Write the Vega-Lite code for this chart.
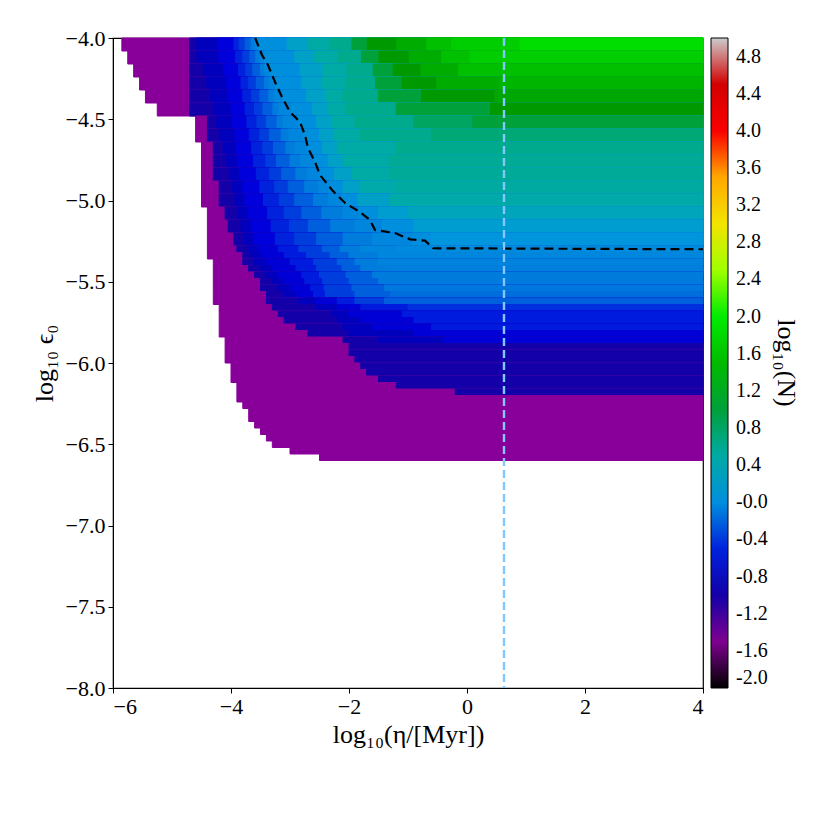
{
"$schema":"https://vega.github.io/schema/vega-lite/v6.json",
"width":590,"height":650,
"autosize":{"type":"none"},
"padding":{"left":113,"top":38,"right":127,"bottom":142},
"background":"white",
"config":{
 "view":{"stroke":"black","strokeWidth":1.2},
 "axis":{"labelFont":"Liberation Serif","titleFont":"Liberation Serif","labelFontSize":22,"titleFontSize":26,"labelColor":"black","titleColor":"black","domainColor":"black","tickColor":"black","grid":false,"tickSize":5,"titleFontWeight":"normal","labelPadding":3}
},
"datasets":{"cells":[
{"x":-5.85,"y":-4.08,"t":-4,"v":-1.3},{"x":-4.7,"y":-4.08,"t":-4,"v":-1},{"x":-4.58,"y":-4.08,"t":-4,"v":-0.82},{"x":-4.22,"y":-4.08,"t":-4,"v":-0.6},{"x":-3.95,"y":-4.08,"t":-4,"v":-0.5},{"x":-3.86,"y":-4.08,"t":-4,"v":-0.42},{"x":-3.76,"y":-4.08,"t":-4,"v":-0.32},{"x":-3.66,"y":-4.08,"t":-4,"v":-0.2},{"x":-3.6,"y":-4.08,"t":-4,"v":-0.1},{"x":-3.55,"y":-4.08,"t":-4,"v":0},{"x":-3.05,"y":-4.08,"t":-4,"v":0.25},{"x":-2.69,"y":-4.08,"t":-4,"v":0.5},{"x":-2.32,"y":-4.08,"t":-4,"v":0.75},{"x":-1.95,"y":-4.08,"t":-4,"v":1},{"x":-1.69,"y":-4.08,"t":-4,"v":1.15},{"x":-1.19,"y":-4.08,"t":-4,"v":1.35},{"x":-0.68,"y":-4.08,"t":-4,"v":1.55},{"x":-0.26,"y":-4.08,"t":-4,"v":1.7},{"x":0.9,"y":-4.08,"t":-4,"v":1.85},
{"x":-5.75,"y":-4.16,"t":-4.08,"v":-1.3},{"x":-4.7,"y":-4.16,"t":-4.08,"v":-1},{"x":-4.57,"y":-4.16,"t":-4.08,"v":-0.82},{"x":-4.2,"y":-4.16,"t":-4.08,"v":-0.6},{"x":-3.92,"y":-4.16,"t":-4.08,"v":-0.5},{"x":-3.8,"y":-4.16,"t":-4.08,"v":-0.42},{"x":-3.68,"y":-4.16,"t":-4.08,"v":-0.32},{"x":-3.58,"y":-4.16,"t":-4.08,"v":-0.2},{"x":-3.5,"y":-4.16,"t":-4.08,"v":-0.1},{"x":-3.43,"y":-4.16,"t":-4.08,"v":0},{"x":-2.92,"y":-4.16,"t":-4.08,"v":0.25},{"x":-2.58,"y":-4.16,"t":-4.08,"v":0.5},{"x":-2.18,"y":-4.16,"t":-4.08,"v":0.75},{"x":-1.79,"y":-4.16,"t":-4.08,"v":1},{"x":-1.49,"y":-4.16,"t":-4.08,"v":1.15},{"x":-0.98,"y":-4.16,"t":-4.08,"v":1.35},{"x":-0.43,"y":-4.16,"t":-4.08,"v":1.55},{"x":0.05,"y":-4.16,"t":-4.08,"v":1.7},
{"x":-5.65,"y":-4.24,"t":-4.16,"v":-1.3},{"x":-4.7,"y":-4.24,"t":-4.16,"v":-1},{"x":-4.46,"y":-4.24,"t":-4.16,"v":-0.82},{"x":-4.12,"y":-4.24,"t":-4.16,"v":-0.6},{"x":-3.87,"y":-4.24,"t":-4.16,"v":-0.5},{"x":-3.75,"y":-4.24,"t":-4.16,"v":-0.42},{"x":-3.63,"y":-4.24,"t":-4.16,"v":-0.32},{"x":-3.5,"y":-4.24,"t":-4.16,"v":-0.2},{"x":-3.43,"y":-4.24,"t":-4.16,"v":-0.1},{"x":-3.34,"y":-4.24,"t":-4.16,"v":0},{"x":-2.83,"y":-4.24,"t":-4.16,"v":0.25},{"x":-2.44,"y":-4.24,"t":-4.16,"v":0.5},{"x":-2.02,"y":-4.24,"t":-4.16,"v":0.75},{"x":-1.59,"y":-4.24,"t":-4.16,"v":1},{"x":-1.25,"y":-4.24,"t":-4.16,"v":1.15},{"x":-0.78,"y":-4.24,"t":-4.16,"v":1.35},{"x":-0.14,"y":-4.24,"t":-4.16,"v":1.55},
{"x":-5.55,"y":-4.32,"t":-4.24,"v":-1.3},{"x":-4.7,"y":-4.32,"t":-4.24,"v":-1},{"x":-4.41,"y":-4.32,"t":-4.24,"v":-0.82},{"x":-4.08,"y":-4.32,"t":-4.24,"v":-0.6},{"x":-3.83,"y":-4.32,"t":-4.24,"v":-0.5},{"x":-3.7,"y":-4.32,"t":-4.24,"v":-0.42},{"x":-3.57,"y":-4.32,"t":-4.24,"v":-0.32},{"x":-3.43,"y":-4.32,"t":-4.24,"v":-0.2},{"x":-3.35,"y":-4.32,"t":-4.24,"v":-0.1},{"x":-3.23,"y":-4.32,"t":-4.24,"v":0},{"x":-2.8,"y":-4.32,"t":-4.24,"v":0.25},{"x":-2.45,"y":-4.32,"t":-4.24,"v":0.5},{"x":-2.05,"y":-4.32,"t":-4.24,"v":0.75},{"x":-1.55,"y":-4.32,"t":-4.24,"v":1},{"x":-1.1,"y":-4.32,"t":-4.24,"v":1.15},{"x":-0.51,"y":-4.32,"t":-4.24,"v":1.35},{"x":0.55,"y":-4.32,"t":-4.24,"v":1.44},
{"x":-5.45,"y":-4.4,"t":-4.32,"v":-1.3},{"x":-4.7,"y":-4.4,"t":-4.32,"v":-1},{"x":-4.35,"y":-4.4,"t":-4.32,"v":-0.82},{"x":-4.04,"y":-4.4,"t":-4.32,"v":-0.6},{"x":-3.8,"y":-4.4,"t":-4.32,"v":-0.5},{"x":-3.65,"y":-4.4,"t":-4.32,"v":-0.42},{"x":-3.51,"y":-4.4,"t":-4.32,"v":-0.32},{"x":-3.36,"y":-4.4,"t":-4.32,"v":-0.2},{"x":-3.27,"y":-4.4,"t":-4.32,"v":-0.1},{"x":-3.12,"y":-4.4,"t":-4.32,"v":0},{"x":-2.72,"y":-4.4,"t":-4.32,"v":0.25},{"x":-2.4,"y":-4.4,"t":-4.32,"v":0.5},{"x":-2.1,"y":-4.4,"t":-4.32,"v":0.75},{"x":-1.5,"y":-4.4,"t":-4.32,"v":1},{"x":-0.77,"y":-4.4,"t":-4.32,"v":1.15},{"x":0.47,"y":-4.4,"t":-4.32,"v":1.29},
{"x":-5.25,"y":-4.48,"t":-4.4,"v":-1.3},{"x":-4.7,"y":-4.48,"t":-4.4,"v":-1},{"x":-4.29,"y":-4.48,"t":-4.4,"v":-0.82},{"x":-4,"y":-4.48,"t":-4.4,"v":-0.6},{"x":-3.76,"y":-4.48,"t":-4.4,"v":-0.5},{"x":-3.6,"y":-4.48,"t":-4.4,"v":-0.42},{"x":-3.46,"y":-4.48,"t":-4.4,"v":-0.32},{"x":-3.29,"y":-4.48,"t":-4.4,"v":-0.2},{"x":-3.2,"y":-4.48,"t":-4.4,"v":-0.1},{"x":-2.98,"y":-4.48,"t":-4.4,"v":0},{"x":-2.62,"y":-4.48,"t":-4.4,"v":0.25},{"x":-2.35,"y":-4.48,"t":-4.4,"v":0.5},{"x":-2.05,"y":-4.48,"t":-4.4,"v":0.75},{"x":-1.2,"y":-4.48,"t":-4.4,"v":1},{"x":0.4,"y":-4.48,"t":-4.4,"v":1.15},
{"x":-4.6,"y":-4.56,"t":-4.48,"v":-1.3},{"x":-4.4,"y":-4.56,"t":-4.48,"v":-1},{"x":-4.24,"y":-4.56,"t":-4.48,"v":-0.82},{"x":-3.97,"y":-4.56,"t":-4.48,"v":-0.6},{"x":-3.73,"y":-4.56,"t":-4.48,"v":-0.5},{"x":-3.56,"y":-4.56,"t":-4.48,"v":-0.42},{"x":-3.4,"y":-4.56,"t":-4.48,"v":-0.32},{"x":-3.22,"y":-4.56,"t":-4.48,"v":-0.2},{"x":-3.11,"y":-4.56,"t":-4.48,"v":-0.1},{"x":-2.86,"y":-4.56,"t":-4.48,"v":0},{"x":-2.55,"y":-4.56,"t":-4.48,"v":0.25},{"x":-2.3,"y":-4.56,"t":-4.48,"v":0.5},{"x":-1.9,"y":-4.56,"t":-4.48,"v":0.75},{"x":-0.9,"y":-4.56,"t":-4.48,"v":0.9},{"x":0.1,"y":-4.56,"t":-4.48,"v":1},
{"x":-4.6,"y":-4.64,"t":-4.56,"v":-1.3},{"x":-4.4,"y":-4.64,"t":-4.56,"v":-1},{"x":-4.19,"y":-4.64,"t":-4.56,"v":-0.82},{"x":-3.93,"y":-4.64,"t":-4.56,"v":-0.6},{"x":-3.69,"y":-4.64,"t":-4.56,"v":-0.5},{"x":-3.51,"y":-4.64,"t":-4.56,"v":-0.42},{"x":-3.35,"y":-4.64,"t":-4.56,"v":-0.32},{"x":-3.15,"y":-4.64,"t":-4.56,"v":-0.2},{"x":-3.02,"y":-4.64,"t":-4.56,"v":-0.1},{"x":-2.78,"y":-4.64,"t":-4.56,"v":0},{"x":-2.5,"y":-4.64,"t":-4.56,"v":0.25},{"x":-2.25,"y":-4.64,"t":-4.56,"v":0.5},{"x":-1.8,"y":-4.64,"t":-4.56,"v":0.75},{"x":-0.6,"y":-4.64,"t":-4.56,"v":0.85},
{"x":-4.5,"y":-4.72,"t":-4.64,"v":-1.3},{"x":-4.3,"y":-4.72,"t":-4.64,"v":-1},{"x":-4.13,"y":-4.72,"t":-4.64,"v":-0.82},{"x":-3.91,"y":-4.72,"t":-4.64,"v":-0.6},{"x":-3.65,"y":-4.72,"t":-4.64,"v":-0.5},{"x":-3.46,"y":-4.72,"t":-4.64,"v":-0.42},{"x":-3.28,"y":-4.72,"t":-4.64,"v":-0.32},{"x":-3.07,"y":-4.72,"t":-4.64,"v":-0.2},{"x":-2.91,"y":-4.72,"t":-4.64,"v":-0.1},{"x":-2.7,"y":-4.72,"t":-4.64,"v":0},{"x":-2.45,"y":-4.72,"t":-4.64,"v":0.25},{"x":-2.2,"y":-4.72,"t":-4.64,"v":0.5},{"x":-1.2,"y":-4.72,"t":-4.64,"v":0.75},
{"x":-4.5,"y":-4.8,"t":-4.72,"v":-1.3},{"x":-4.3,"y":-4.8,"t":-4.72,"v":-1},{"x":-4.08,"y":-4.8,"t":-4.72,"v":-0.82},{"x":-3.89,"y":-4.8,"t":-4.72,"v":-0.6},{"x":-3.62,"y":-4.8,"t":-4.72,"v":-0.5},{"x":-3.41,"y":-4.8,"t":-4.72,"v":-0.42},{"x":-3.23,"y":-4.8,"t":-4.72,"v":-0.32},{"x":-3,"y":-4.8,"t":-4.72,"v":-0.2},{"x":-2.83,"y":-4.8,"t":-4.72,"v":-0.1},{"x":-2.59,"y":-4.8,"t":-4.72,"v":0},{"x":-2.35,"y":-4.8,"t":-4.72,"v":0.25},{"x":-2.1,"y":-4.8,"t":-4.72,"v":0.5},{"x":-1.3,"y":-4.8,"t":-4.72,"v":0.68},
{"x":-4.5,"y":-4.88,"t":-4.8,"v":-1.3},{"x":-4.3,"y":-4.88,"t":-4.8,"v":-1},{"x":-4.02,"y":-4.88,"t":-4.8,"v":-0.82},{"x":-3.85,"y":-4.88,"t":-4.8,"v":-0.6},{"x":-3.57,"y":-4.88,"t":-4.8,"v":-0.5},{"x":-3.35,"y":-4.88,"t":-4.8,"v":-0.42},{"x":-3.14,"y":-4.88,"t":-4.8,"v":-0.32},{"x":-2.9,"y":-4.88,"t":-4.8,"v":-0.2},{"x":-2.7,"y":-4.88,"t":-4.8,"v":-0.1},{"x":-2.48,"y":-4.88,"t":-4.8,"v":0},{"x":-2.25,"y":-4.88,"t":-4.8,"v":0.25},{"x":-1.95,"y":-4.88,"t":-4.8,"v":0.5},{"x":-1.3,"y":-4.88,"t":-4.8,"v":0.62},
{"x":-4.5,"y":-4.96,"t":-4.88,"v":-1.3},{"x":-4.2,"y":-4.96,"t":-4.88,"v":-1},{"x":-3.97,"y":-4.96,"t":-4.88,"v":-0.82},{"x":-3.8,"y":-4.96,"t":-4.88,"v":-0.6},{"x":-3.51,"y":-4.96,"t":-4.88,"v":-0.5},{"x":-3.26,"y":-4.96,"t":-4.88,"v":-0.42},{"x":-3.03,"y":-4.96,"t":-4.88,"v":-0.32},{"x":-2.75,"y":-4.96,"t":-4.88,"v":-0.2},{"x":-2.52,"y":-4.96,"t":-4.88,"v":-0.1},{"x":-2.34,"y":-4.96,"t":-4.88,"v":0},{"x":-2.1,"y":-4.96,"t":-4.88,"v":0.25},{"x":-1.8,"y":-4.96,"t":-4.88,"v":0.45},{"x":-1.2,"y":-4.96,"t":-4.88,"v":0.55},
{"x":-4.5,"y":-5.04,"t":-4.96,"v":-1.3},{"x":-4.2,"y":-5.04,"t":-4.96,"v":-1},{"x":-3.93,"y":-5.04,"t":-4.96,"v":-0.82},{"x":-3.76,"y":-5.04,"t":-4.96,"v":-0.6},{"x":-3.45,"y":-5.04,"t":-4.96,"v":-0.5},{"x":-3.18,"y":-5.04,"t":-4.96,"v":-0.42},{"x":-2.92,"y":-5.04,"t":-4.96,"v":-0.32},{"x":-2.6,"y":-5.04,"t":-4.96,"v":-0.2},{"x":-2.35,"y":-5.04,"t":-4.96,"v":-0.1},{"x":-2.13,"y":-5.04,"t":-4.96,"v":0},{"x":-1.85,"y":-5.04,"t":-4.96,"v":0.25},{"x":-1.3,"y":-5.04,"t":-4.96,"v":0.47},
{"x":-4.4,"y":-5.12,"t":-5.04,"v":-1.3},{"x":-4.1,"y":-5.12,"t":-5.04,"v":-1},{"x":-3.88,"y":-5.12,"t":-5.04,"v":-0.82},{"x":-3.71,"y":-5.12,"t":-5.04,"v":-0.6},{"x":-3.38,"y":-5.12,"t":-5.04,"v":-0.5},{"x":-3.1,"y":-5.12,"t":-5.04,"v":-0.42},{"x":-2.8,"y":-5.12,"t":-5.04,"v":-0.32},{"x":-2.46,"y":-5.12,"t":-5.04,"v":-0.2},{"x":-2.1,"y":-5.12,"t":-5.04,"v":-0.1},{"x":-1.82,"y":-5.12,"t":-5.04,"v":0},{"x":-1.5,"y":-5.12,"t":-5.04,"v":0.18},{"x":-1,"y":-5.12,"t":-5.04,"v":0.33},
{"x":-4.4,"y":-5.2,"t":-5.12,"v":-1.3},{"x":-4.05,"y":-5.2,"t":-5.12,"v":-1},{"x":-3.83,"y":-5.2,"t":-5.12,"v":-0.82},{"x":-3.66,"y":-5.2,"t":-5.12,"v":-0.6},{"x":-3.32,"y":-5.2,"t":-5.12,"v":-0.5},{"x":-3.01,"y":-5.2,"t":-5.12,"v":-0.42},{"x":-2.69,"y":-5.2,"t":-5.12,"v":-0.32},{"x":-2.31,"y":-5.2,"t":-5.12,"v":-0.2},{"x":-1.9,"y":-5.2,"t":-5.12,"v":-0.1},{"x":-1.43,"y":-5.2,"t":-5.12,"v":0},{"x":-0.9,"y":-5.2,"t":-5.12,"v":0.18},
{"x":-4.4,"y":-5.28,"t":-5.2,"v":-1.3},{"x":-3.95,"y":-5.28,"t":-5.2,"v":-1},{"x":-3.78,"y":-5.28,"t":-5.2,"v":-0.82},{"x":-3.6,"y":-5.28,"t":-5.2,"v":-0.6},{"x":-3.25,"y":-5.28,"t":-5.2,"v":-0.5},{"x":-2.92,"y":-5.28,"t":-5.2,"v":-0.42},{"x":-2.55,"y":-5.28,"t":-5.2,"v":-0.32},{"x":-2.1,"y":-5.28,"t":-5.2,"v":-0.2},{"x":-1.6,"y":-5.28,"t":-5.2,"v":-0.1},{"x":-0.93,"y":-5.28,"t":-5.2,"v":0},{"x":-0.6,"y":-5.28,"t":-5.2,"v":0.06},
{"x":-4.4,"y":-5.32,"t":-5.28,"v":-1.3},{"x":-3.9,"y":-5.32,"t":-5.28,"v":-1},{"x":-3.72,"y":-5.32,"t":-5.28,"v":-0.82},{"x":-3.55,"y":-5.32,"t":-5.28,"v":-0.65},{"x":-3.2,"y":-5.32,"t":-5.28,"v":-0.52},{"x":-2.85,"y":-5.32,"t":-5.28,"v":-0.42},{"x":-2.45,"y":-5.32,"t":-5.28,"v":-0.32},{"x":-2.15,"y":-5.32,"t":-5.28,"v":-0.2},{"x":-1.8,"y":-5.32,"t":-5.28,"v":-0.1},{"x":-1.2,"y":-5.32,"t":-5.28,"v":-0.05},
{"x":-4.4,"y":-5.36,"t":-5.32,"v":-1.3},{"x":-3.8,"y":-5.36,"t":-5.32,"v":-1},{"x":-3.66,"y":-5.36,"t":-5.32,"v":-0.82},{"x":-3.48,"y":-5.36,"t":-5.32,"v":-0.65},{"x":-3.1,"y":-5.36,"t":-5.32,"v":-0.52},{"x":-2.72,"y":-5.36,"t":-5.32,"v":-0.42},{"x":-2.32,"y":-5.36,"t":-5.32,"v":-0.32},{"x":-2,"y":-5.36,"t":-5.32,"v":-0.2},{"x":-1.5,"y":-5.36,"t":-5.32,"v":-0.1},
{"x":-4.3,"y":-5.4,"t":-5.36,"v":-1.3},{"x":-3.8,"y":-5.4,"t":-5.36,"v":-1},{"x":-3.6,"y":-5.4,"t":-5.36,"v":-0.82},{"x":-3.4,"y":-5.4,"t":-5.36,"v":-0.65},{"x":-3,"y":-5.4,"t":-5.36,"v":-0.52},{"x":-2.6,"y":-5.4,"t":-5.36,"v":-0.42},{"x":-2.2,"y":-5.4,"t":-5.36,"v":-0.32},{"x":-1.9,"y":-5.4,"t":-5.36,"v":-0.2},{"x":-1.5,"y":-5.4,"t":-5.36,"v":-0.14},
{"x":-4.3,"y":-5.44,"t":-5.4,"v":-1.3},{"x":-3.7,"y":-5.44,"t":-5.4,"v":-1},{"x":-3.5,"y":-5.44,"t":-5.4,"v":-0.82},{"x":-3.3,"y":-5.44,"t":-5.4,"v":-0.65},{"x":-2.9,"y":-5.44,"t":-5.4,"v":-0.52},{"x":-2.55,"y":-5.44,"t":-5.4,"v":-0.42},{"x":-2.12,"y":-5.44,"t":-5.4,"v":-0.32},{"x":-1.8,"y":-5.44,"t":-5.4,"v":-0.2},{"x":-1.4,"y":-5.44,"t":-5.4,"v":-0.17},
{"x":-4.3,"y":-5.48,"t":-5.44,"v":-1.3},{"x":-3.6,"y":-5.48,"t":-5.44,"v":-1},{"x":-3.4,"y":-5.48,"t":-5.44,"v":-0.82},{"x":-3.2,"y":-5.48,"t":-5.44,"v":-0.65},{"x":-2.8,"y":-5.48,"t":-5.44,"v":-0.52},{"x":-2.5,"y":-5.48,"t":-5.44,"v":-0.42},{"x":-2.05,"y":-5.48,"t":-5.44,"v":-0.32},{"x":-1.6,"y":-5.48,"t":-5.44,"v":-0.2},
{"x":-4.3,"y":-5.52,"t":-5.48,"v":-1.3},{"x":-3.5,"y":-5.52,"t":-5.48,"v":-1},{"x":-3.3,"y":-5.52,"t":-5.48,"v":-0.82},{"x":-3.1,"y":-5.52,"t":-5.48,"v":-0.65},{"x":-2.75,"y":-5.52,"t":-5.48,"v":-0.52},{"x":-2.45,"y":-5.52,"t":-5.48,"v":-0.42},{"x":-2,"y":-5.52,"t":-5.48,"v":-0.32},{"x":-1.5,"y":-5.52,"t":-5.48,"v":-0.22},
{"x":-4.3,"y":-5.56,"t":-5.52,"v":-1.3},{"x":-3.5,"y":-5.56,"t":-5.52,"v":-1},{"x":-3.2,"y":-5.56,"t":-5.52,"v":-0.82},{"x":-3,"y":-5.56,"t":-5.52,"v":-0.65},{"x":-2.65,"y":-5.56,"t":-5.52,"v":-0.52},{"x":-2.42,"y":-5.56,"t":-5.52,"v":-0.42},{"x":-1.95,"y":-5.56,"t":-5.52,"v":-0.32},{"x":-1.4,"y":-5.56,"t":-5.52,"v":-0.25},
{"x":-4.3,"y":-5.6,"t":-5.56,"v":-1.3},{"x":-3.4,"y":-5.6,"t":-5.56,"v":-1},{"x":-3.1,"y":-5.6,"t":-5.56,"v":-0.82},{"x":-2.9,"y":-5.6,"t":-5.56,"v":-0.65},{"x":-2.6,"y":-5.6,"t":-5.56,"v":-0.52},{"x":-2.4,"y":-5.6,"t":-5.56,"v":-0.42},{"x":-1.9,"y":-5.6,"t":-5.56,"v":-0.32},{"x":-1.3,"y":-5.6,"t":-5.56,"v":-0.28},
{"x":-4.3,"y":-5.64,"t":-5.6,"v":-1.3},{"x":-3.4,"y":-5.64,"t":-5.6,"v":-1},{"x":-2.85,"y":-5.64,"t":-5.6,"v":-0.82},{"x":-2.55,"y":-5.64,"t":-5.6,"v":-0.65},{"x":-2.2,"y":-5.64,"t":-5.6,"v":-0.52},{"x":-1.9,"y":-5.64,"t":-5.6,"v":-0.42},{"x":-1.4,"y":-5.64,"t":-5.6,"v":-0.32},
{"x":-4.2,"y":-5.68,"t":-5.64,"v":-1.3},{"x":-3.3,"y":-5.68,"t":-5.64,"v":-1},{"x":-2.55,"y":-5.68,"t":-5.64,"v":-0.82},{"x":-2.2,"y":-5.68,"t":-5.64,"v":-0.65},{"x":-1.8,"y":-5.68,"t":-5.64,"v":-0.52},{"x":-1,"y":-5.68,"t":-5.64,"v":-0.46},
{"x":-4.2,"y":-5.72,"t":-5.68,"v":-1.3},{"x":-3.2,"y":-5.72,"t":-5.68,"v":-1},{"x":-2.3,"y":-5.72,"t":-5.68,"v":-0.82},{"x":-2,"y":-5.72,"t":-5.68,"v":-0.65},{"x":-1.1,"y":-5.72,"t":-5.68,"v":-0.52},
{"x":-4.2,"y":-5.76,"t":-5.72,"v":-1.3},{"x":-3.1,"y":-5.76,"t":-5.72,"v":-1},{"x":-2.2,"y":-5.76,"t":-5.72,"v":-0.82},{"x":-1.8,"y":-5.76,"t":-5.72,"v":-0.65},{"x":-0.9,"y":-5.76,"t":-5.72,"v":-0.52},
{"x":-4.2,"y":-5.8,"t":-5.76,"v":-1.3},{"x":-2.9,"y":-5.8,"t":-5.76,"v":-1},{"x":-2.1,"y":-5.8,"t":-5.76,"v":-0.82},{"x":-1.6,"y":-5.8,"t":-5.76,"v":-0.65},{"x":-0.6,"y":-5.8,"t":-5.76,"v":-0.52},
{"x":-4.2,"y":-5.84,"t":-5.8,"v":-1.3},{"x":-2.7,"y":-5.84,"t":-5.8,"v":-1},{"x":-2,"y":-5.84,"t":-5.8,"v":-0.82},{"x":-0.9,"y":-5.84,"t":-5.8,"v":-0.65},
{"x":-4.1,"y":-5.88,"t":-5.84,"v":-1.3},{"x":-2.1,"y":-5.88,"t":-5.84,"v":-1},{"x":-1.5,"y":-5.88,"t":-5.84,"v":-0.82},{"x":-0.4,"y":-5.88,"t":-5.84,"v":-0.65},
{"x":-4.1,"y":-5.92,"t":-5.88,"v":-1.3},{"x":-2,"y":-5.92,"t":-5.88,"v":-1},
{"x":-4.1,"y":-5.96,"t":-5.92,"v":-1.3},{"x":-2,"y":-5.96,"t":-5.92,"v":-1},
{"x":-4.1,"y":-6,"t":-5.96,"v":-1.3},{"x":-1.9,"y":-6,"t":-5.96,"v":-1},
{"x":-4,"y":-6.04,"t":-6,"v":-1.3},{"x":-1.8,"y":-6.04,"t":-6,"v":-1},
{"x":-4,"y":-6.08,"t":-6.04,"v":-1.3},{"x":-1.7,"y":-6.08,"t":-6.04,"v":-1},
{"x":-4,"y":-6.12,"t":-6.08,"v":-1.3},{"x":-1.5,"y":-6.12,"t":-6.08,"v":-1},
{"x":-3.9,"y":-6.16,"t":-6.12,"v":-1.3},{"x":-1.2,"y":-6.16,"t":-6.12,"v":-1},
{"x":-3.9,"y":-6.2,"t":-6.16,"v":-1.3},{"x":-0.2,"y":-6.2,"t":-6.16,"v":-1},
{"x":-3.9,"y":-6.24,"t":-6.2,"v":-1.3},
{"x":-3.8,"y":-6.28,"t":-6.24,"v":-1.3},
{"x":-3.7,"y":-6.36,"t":-6.28,"v":-1.3},
{"x":-3.6,"y":-6.4,"t":-6.36,"v":-1.3},
{"x":-3.5,"y":-6.44,"t":-6.4,"v":-1.3},
{"x":-3.4,"y":-6.48,"t":-6.44,"v":-1.3},
{"x":-3.3,"y":-6.52,"t":-6.48,"v":-1.3},
{"x":-3,"y":-6.56,"t":-6.52,"v":-1.3},
{"x":-2.5,"y":-6.6,"t":-6.56,"v":-1.3}
]},
"layer":[
{"data":{"name":"cells"},
"mark":{"type":"rect","stroke":{"expr":"scale('color', datum.v)"},"strokeWidth":1},
"encoding":{
 "x":{"field":"x","type":"quantitative","scale":{"domain":[-6,4],"nice":false,"zero":false},"axis":{"values":[-6,-4,-2,0,2,4],"format":"d","title":"log₁₀(η/[Myr])","titlePadding":4}},
 "x2":{"datum":4},
 "y":{"field":"y","type":"quantitative","scale":{"domain":[-8,-4],"nice":false,"zero":false},"axis":{"values":[-8,-7.5,-7,-6.5,-6,-5.5,-5,-4.5,-4],"format":".1f","title":"log₁₀ ϵ₀","titlePadding":8}},
 "y2":{"field":"t"},
 "color":{"field":"v","type":"quantitative",
   "scale":{"domain":[-2,-1.65,-1.3,-0.95,-0.6,-0.25,0.1,0.45,0.8,1.15,1.5,1.85,2.2,2.55,2.9,3.25,3.6,3.95,4.3,4.65,5],"range":["#000000","#770088","#880099","#0000aa","#0000dd","#0077dd","#0099dd","#00aaaa","#00aa88","#009900","#00bb00","#00dd00","#00ff00","#bbff00","#eeee00","#ffcc00","#ff9900","#ff0000","#dd0000","#cc0000","#cccccc"],"interpolate":"rgb"},
   "legend":{"type":"gradient","orient":"right","offset":8,"direction":"vertical","gradientLength":650,"gradientThickness":17,"values":[-2,-1.6,-1.2,-0.8,-0.4,0,0.4,0.8,1.2,1.6,2,2.4,2.8,3.2,3.6,4,4.4,4.8],"labelExpr":"datum.value==0?'-0.0':replace(format(datum.value,'.1f'),'−','-')","labelFont":"Liberation Serif","labelFontSize":20,"labelColor":"black","labelOverlap":false,"labelOffset":8,"labelBaseline":"middle","title":"log₁₀(N)","titleFont":"Liberation Serif","titleFontSize":26,"titleFontWeight":"normal","titleColor":"black","titleOrient":"right","titleAngle":270,"titleAnchor":"middle","titleBaseline":"bottom","gradientStrokeColor":"black","gradientStrokeWidth":1,"padding":0}}
}},
{"data":{"values":[{"x":-3.59,"y":-4.0},{"x":-3.475,"y":-4.105},{"x":-3.373,"y":-4.166},{"x":-3.254,"y":-4.271},{"x":-3.136,"y":-4.363},{"x":-3.0,"y":-4.455},{"x":-2.831,"y":-4.517},{"x":-2.746,"y":-4.597},{"x":-2.695,"y":-4.677},{"x":-2.576,"y":-4.763},{"x":-2.492,"y":-4.843},{"x":-2.288,"y":-4.935},{"x":-2.068,"y":-5.015},{"x":-1.814,"y":-5.071},{"x":-1.644,"y":-5.12},{"x":-1.559,"y":-5.182},{"x":-1.22,"y":-5.2},{"x":-0.966,"y":-5.239},{"x":-0.712,"y":-5.247},{"x":-0.571,"y":-5.294},{"x":4,"y":-5.3}]},
 "mark":{"type":"line","color":"black","strokeWidth":2.2,"strokeDash":[9,5]},
 "encoding":{"x":{"field":"x","type":"quantitative"},"y":{"field":"y","type":"quantitative"}}},
{"data":{"values":[{"x":0.627}]},
 "mark":{"type":"rule","color":"#80c8ff","strokeWidth":2.4,"strokeDash":[8,4]},
 "encoding":{"x":{"field":"x","type":"quantitative"}}}
]
}
